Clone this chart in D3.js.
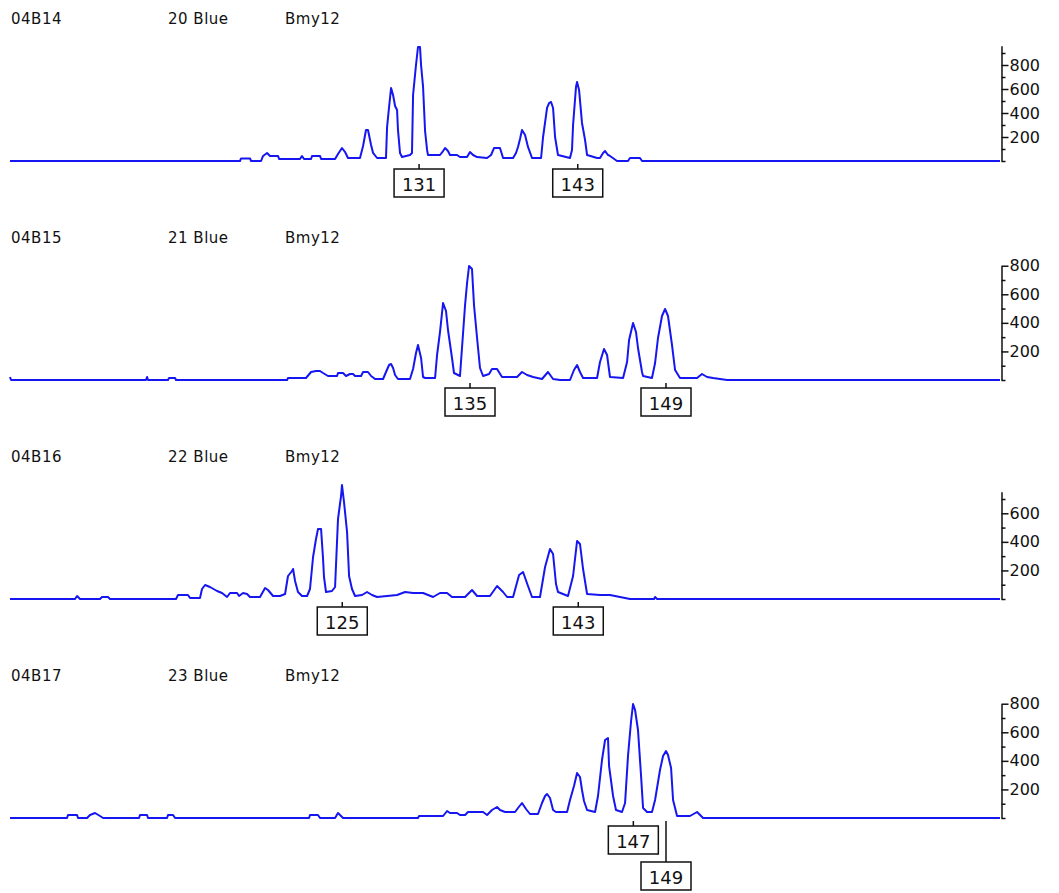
<!DOCTYPE html>
<html>
<head>
<meta charset="utf-8">
<script src="https://cdn.jsdelivr.net/npm/d3@7"></script>
<style>
  html, body { margin: 0; padding: 0; background: #fff; }
  svg { display: block; }
</style>
</head>
<body>
<svg id="chart" width="1059" height="893"></svg>
<script>
// Genotyper-style electropherogram, marker Bmy12, blue dye, four samples.

const sampleIds = ["04B14", "04B15", "04B16", "04B17"];
const laneNames = ["20 Blue", "21 Blue", "22 Blue", "23 Blue"];
const markerName = "Bmy12";

// Fragment size window shown on the x axis (bp)
const sizeWindow = [100.2, 174.45];

// Per-panel scaling (RFU at the top of the plot area) and the extent of each y axis
const panelScaleMax = [1000, 840, 840, 840];
const axisExtent = [960, 800, 750, 800];
const labelledTicks = [200, 400, 600, 800];
const minorTicks = [0, 100, 300, 500, 700, 900];

// Traces: [size (bp), signal (RFU)]
const trace04B14 = [
  [100.2,0],[117.45,0],[117.53,21],[118.2,21],[118.28,0],[119.03,0],[119.18,42],[119.48,67],
  [119.7,42],[120.3,42],[120.38,17],[121.95,17],[122.1,42],[122.25,17],[122.78,17],[122.85,42],
  [123.45,42],[123.53,17],[124.58,17],[124.8,58],[125.1,108],[125.33,75],[125.55,25],[126.45,25],
  [126.68,125],[126.9,258],[127.05,258],[127.28,133],[127.43,67],[127.73,25],[128.4,25],[128.48,283],
  [128.63,450],[128.78,608],[128.93,550],[129.08,458],[129.23,425],[129.3,258],[129.45,67],[129.6,33],
  [130.2,50],[130.35,67],[130.43,550],[130.65,800],[130.8,950],[130.95,950],[131.03,800],[131.18,617],
  [131.33,250],[131.48,92],[131.55,50],[132.45,50],[132.68,83],[132.83,108],[133.05,83],[133.2,50],
  [133.73,50],[133.95,33],[134.48,33],[134.7,75],[134.93,50],[135.23,33],[135.98,25],[136.28,50],
  [136.5,108],[136.95,108],[137.18,25],[137.93,25],[138.15,67],[138.3,117],[138.45,183],[138.6,258],
  [138.83,217],[139.05,117],[139.35,25],[140.03,25],[140.18,200],[140.48,442],[140.63,483],[140.78,492],
  [140.93,442],[141.08,200],[141.3,50],[142.2,25],[142.35,92],[142.43,300],[142.65,617],[142.73,658],
  [142.88,592],[143.1,317],[143.33,175],[143.48,50],[144.23,25],[144.45,25],[144.68,67],[144.83,83],
  [145.05,50],[145.2,42],[145.73,0],[146.55,0],[146.7,25],[147.45,25],[147.6,0],[174.45,0]
];

const trace04B15 = [
  [100.2,21],[100.28,0],[110.4,0],[110.48,21],[110.55,0],[112.05,0],[112.13,14],[112.58,14],
  [112.65,0],[120.98,0],[121.05,14],[122.4,14],[122.78,56],[123.15,63],[123.45,63],[123.68,49],
  [124.05,28],[124.73,28],[124.8,49],[125.18,49],[125.4,28],[125.7,42],[125.93,42],[126.08,28],
  [126.53,28],[126.68,56],[127.05,56],[127.28,28],[127.58,7],[128.18,7],[128.4,56],[128.63,105],
  [128.78,112],[128.93,84],[129.08,35],[129.3,7],[130.2,7],[130.43,77],[130.65,189],[130.8,245],
  [131.03,154],[131.18,21],[131.33,14],[132.08,14],[132.23,175],[132.45,336],[132.68,539],[132.9,483],
  [133.05,350],[133.35,154],[133.5,49],[133.95,28],[134.33,525],[134.48,679],[134.63,798],[134.85,777],
  [135.0,525],[135.23,294],[135.45,84],[135.68,28],[136.13,42],[136.35,77],[136.73,77],[137.1,21],
  [137.7,21],[138.23,21],[138.6,56],[138.98,35],[139.43,21],[140.1,7],[140.55,56],[140.93,7],
  [141.45,0],[142.2,0],[142.5,70],[142.73,105],[142.95,56],[143.18,14],[144.23,14],[144.45,126],
  [144.75,217],[144.98,175],[145.2,21],[146.18,14],[146.48,126],[146.63,280],[146.93,399],[147.15,336],
  [147.3,224],[147.6,56],[147.68,28],[148.35,14],[148.58,119],[148.8,294],[149.1,448],[149.33,497],
  [149.55,448],[149.85,245],[150.08,70],[150.45,14],[151.73,14],[152.1,42],[152.48,21],[152.93,14],
  [153.98,0],[174.45,0]
];

const trace04B16 = [
  [100.2,0],[105.08,0],[105.23,21],[105.45,0],[106.95,0],[107.1,14],[107.55,14],[107.7,0],
  [112.65,0],[112.8,28],[113.55,28],[113.7,7],[114.45,7],[114.6,70],[114.83,98],[115.2,84],
  [115.73,56],[116.1,42],[116.48,14],[116.7,42],[117.23,42],[117.38,21],[117.68,42],[117.98,35],
  [118.2,14],[118.95,14],[119.33,77],[119.55,63],[119.93,21],[120.45,21],[120.83,35],[121.05,161],
  [121.35,196],[121.43,210],[121.58,126],[121.8,49],[122.1,21],[122.48,21],[122.7,70],[122.93,294],
  [123.15,420],[123.3,490],[123.53,490],[123.68,280],[123.75,154],[123.9,49],[124.35,56],[124.58,84],
  [124.8,560],[125.03,721],[125.1,798],[125.25,679],[125.48,469],[125.63,161],[125.85,70],[126.08,21],
  [126.6,28],[126.98,49],[127.35,28],[127.73,14],[129.23,28],[129.83,49],[130.43,42],[131.18,42],
  [131.93,14],[132.45,42],[132.98,42],[133.35,14],[134.33,14],[134.85,63],[135.23,21],[136.2,21],
  [136.73,91],[137.18,49],[137.48,14],[137.93,14],[138.38,168],[138.68,189],[139.05,91],[139.35,14],
  [139.95,14],[140.33,224],[140.7,350],[140.93,315],[141.15,105],[141.3,49],[142.05,21],[142.43,161],
  [142.73,406],[142.95,385],[143.18,210],[143.48,35],[144.45,28],[145.2,28],[145.95,14],[146.7,0],
  [148.5,0],[148.58,14],[148.73,0],[174.45,0]
];

const trace04B17 = [
  [100.2,0],[104.48,0],[104.55,21],[105.23,21],[105.3,0],[105.98,0],[106.2,21],[106.58,35],
  [106.95,14],[107.18,0],[109.88,0],[109.95,21],[110.48,21],[110.55,0],[111.98,0],[112.05,21],
  [112.43,21],[112.58,0],[122.63,0],[122.7,21],[123.3,21],[123.45,0],[124.58,0],[124.8,35],
  [125.18,0],[130.8,0],[130.88,14],[132.68,14],[132.98,49],[133.2,35],[133.73,35],[133.95,21],
  [134.33,21],[134.55,42],[135.68,42],[135.98,21],[136.35,56],[136.73,77],[136.95,56],[137.33,42],
  [138.08,42],[138.3,70],[138.6,105],[138.9,63],[139.2,28],[139.8,28],[140.1,105],[140.33,154],
  [140.48,168],[140.7,140],[140.93,56],[141.15,42],[141.98,42],[142.2,126],[142.5,224],[142.73,315],
  [142.95,287],[143.1,196],[143.25,119],[143.48,56],[144.08,42],[144.3,154],[144.6,406],[144.83,546],
  [145.05,560],[145.13,364],[145.43,154],[145.65,56],[146.1,42],[146.33,105],[146.55,434],[146.78,679],
  [146.93,798],[147.08,756],[147.3,616],[147.53,294],[147.68,70],[147.98,42],[148.35,42],[148.58,126],
  [148.95,336],[149.18,434],[149.4,469],[149.55,441],[149.78,350],[149.93,126],[150.23,14],[151.2,14],
  [151.73,42],[152.18,0],[174.45,0]
];

// Allele calls: label, called size (bp), label row (1 = staggered below)
const alleles04B14 = [{ name: "131", size: 130.88, row: 0 }, { name: "143", size: 142.78, row: 0 }];
const alleles04B15 = [{ name: "135", size: 134.7, row: 0 }, { name: "149", size: 149.4, row: 0 }];
const alleles04B16 = [{ name: "125", size: 125.12, row: 0 }, { name: "143", size: 142.82, row: 0 }];
const alleles04B17 = [{ name: "147", size: 146.95, row: 0 }, { name: "149", size: 149.4, row: 1 }];

const traces = [trace04B14, trace04B15, trace04B16, trace04B17];
const alleleCalls = [alleles04B14, alleles04B15, alleles04B16, alleles04B17];

// ---- layout ----
const plotLeft = 10, plotRight = 1000;
const firstBaseline = 161, panelStep = 219, plotHeight = 120;
const traceColor = "#1616f0";
const font = "'DejaVu Sans', Verdana, sans-serif";

const svg = d3.select("#chart");
const x = d3.scaleLinear().domain(sizeWindow).range([plotLeft, plotRight]);

sampleIds.forEach((id, i) => {
  const base = firstBaseline + i * panelStep;
  const y = d3.scaleLinear().domain([0, panelScaleMax[i]]).range([base, base - plotHeight]);
  const g = svg.append("g").attr("class", "panel");

  // header line: sample, lane/dye, marker
  const header = g.append("g")
    .attr("font-family", font).attr("font-size", 15)
    .attr("letter-spacing", "0.5px").attr("fill", "#111");
  header.append("text").attr("x", 11).attr("y", base - 137).text(id);
  header.append("text").attr("x", 168).attr("y", base - 137).text(laneNames[i]);
  header.append("text").attr("x", 285).attr("y", base - 137).text(markerName);

  // signal trace
  g.append("path")
    .datum(traces[i])
    .attr("fill", "none")
    .attr("stroke", traceColor)
    .attr("stroke-width", 2)
    .attr("stroke-linejoin", "round")
    .attr("d", d3.line().x(d => x(d[0])).y(d => y(d[1])));

  // y axis on the right
  const top = axisExtent[i];
  const axisScale = y.copy().domain([0, top]).range([y(0), y(top)]);
  const axisX = plotRight + 1.5;

  const minor = g.append("g")
    .attr("transform", `translate(${axisX},0)`)
    .call(d3.axisRight(axisScale)
      .tickValues(minorTicks.filter(v => v <= top))
      .tickSize(4).tickSizeOuter(0).tickFormat(""));
  minor.select(".domain").remove();

  const major = g.append("g")
    .attr("transform", `translate(${axisX},0)`)
    .call(d3.axisRight(axisScale)
      .tickValues(labelledTicks.filter(v => v <= top))
      .tickSize(7).tickSizeOuter(0).tickPadding(1));
  major.attr("font-family", font).attr("font-size", 16);
  major.selectAll("text").attr("fill", "#111");

  [minor, major].forEach(ax => {
    ax.selectAll("line").attr("stroke", "#111").attr("stroke-width", 1.5);
  });
  major.select(".domain").attr("stroke", "#111").attr("stroke-width", 1.5);

  // allele call boxes under the peaks
  const boxW = 50, boxH = 28;
  const calls = g.selectAll("g.call").data(alleleCalls[i]).join("g").attr("class", "call");
  calls.append("line")
    .attr("x1", d => x(d.size)).attr("x2", d => x(d.size))
    .attr("y1", base + 3)
    .attr("y2", d => base + (d.row ? 44 : 8))
    .attr("stroke", "#111").attr("stroke-width", 1.5);
  calls.append("rect")
    .attr("x", d => x(d.size) - boxW / 2)
    .attr("y", d => base + (d.row ? 44 : 8))
    .attr("width", boxW).attr("height", boxH)
    .attr("fill", "#fff").attr("stroke", "#111").attr("stroke-width", 1.5);
  calls.append("text")
    .attr("x", d => x(d.size))
    .attr("y", d => base + (d.row ? 44 : 8) + boxH / 2 + 1)
    .attr("text-anchor", "middle")
    .attr("dominant-baseline", "central")
    .attr("font-family", font).attr("font-size", 18)
    .attr("fill", "#111")
    .text(d => d.name);
});
</script>
</body>
</html>
